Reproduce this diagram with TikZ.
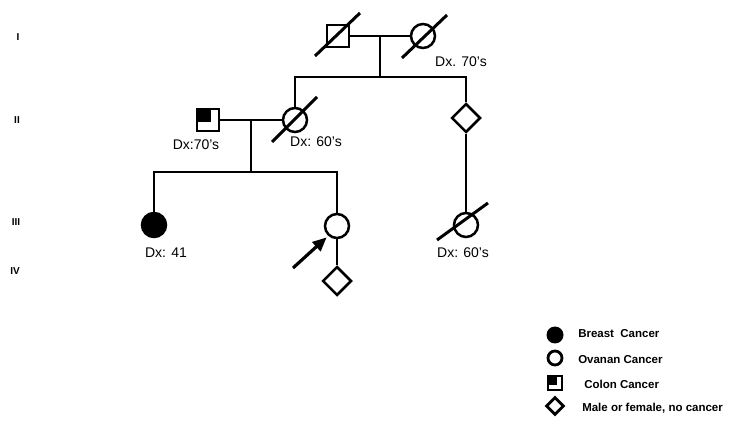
\documentclass[tikz,border=0pt]{standalone}
\usepackage{fontspec}
\setmainfont{Liberation Sans}
\usetikzlibrary{shapes.geometric,arrows.meta,calc}
\begin{document}
\begin{tikzpicture}[x=1pt,y=-1pt,line width=2.5pt,
  male/.style={draw,rectangle,minimum size=22pt,inner sep=0pt},
  female/.style={draw,circle,minimum size=24pt,inner sep=0pt},
  anysex/.style={draw,diamond,minimum size=29pt,inner sep=0pt},
  affected/.style={fill=black},
  deceased/.style={line width=3pt},
  dxlabel/.style={font=\fontsize{14}{16}\selectfont,inner sep=0pt},
  genlabel/.style={font=\fontsize{10}{12}\selectfont\bfseries,inner sep=0pt},
  legtext/.style={font=\fontsize{11.5}{13}\selectfont\bfseries,anchor=west,inner sep=0pt},
  proband/.style={-{Triangle[length=14pt,width=12pt]},line width=3.2pt}]
\useasboundingbox (0,0) rectangle (732,422);

% generation numerals
\node[genlabel] (gI)   at (18,37)  {I};
\node[genlabel] (gII)  at (17,120) {II};
\node[genlabel] (gIII) at (16,222) {III};
\node[genlabel] (gIV)  at (15,271) {IV};

% generation I
\node[male]   (m1) at (338,36) {};
\node[female] (f1) at (423,36) {};
\draw[deceased] ($(m1)+(-23,20)$) -- ($(m1)+(22,-23)$);
\draw[deceased] ($(f1)+(-21,22)$) -- ($(f1)+(24,-21)$);
\node[dxlabel] (f1dx) at (461,62) {Dx. 70's};
\draw (m1.east) -- (f1.west) coordinate[pos=0.5] (u1);
\coordinate (s1) at (u1 |- 0,77);

% generation II
\node[male]   (m2) at (208,120) {};
\fill ($(m2.north west)+(1,1)$) rectangle ($(m2.center)+(2.5,2.5)$);
\node[female] (f2) at (295,120) {};
\draw[deceased] ($(f2)+(-23,22)$) -- ($(f2)+(22,-23)$);
\node[anysex] (d2) at (466,118) {};
\node[dxlabel] (m2dx) at (196,145) {Dx:70's};
\node[dxlabel] (f2dx) at (316,142) {Dx: 60's};
\draw (u1) -- (s1);
\draw (f2.north) |- (s1) -| (d2.north);
\draw (m2.east) -- (f2.west) coordinate[pos=0.5] (u2);
\coordinate (s2) at (u2 |- 0,172);

% generation III
\node[female,affected] (f3a) at (154,225) {};
\node[female] (p) at (337,226) {};
\node[female] (f3c) at (466,225) {};
\draw[deceased] ($(f3c)+(-29,15)$) -- ($(f3c)+(22,-22)$);
\node[dxlabel] (f3adx) at (166,253) {Dx: 41};
\node[dxlabel] (f3cdx) at (463,253) {Dx: 60's};
\draw (u2) -- (s2);
\draw (f3a.north) |- (s2) -| (p.north);
\draw (d2.south) -- (f3c.north);
\coordinate (ptail) at (293,268);
\draw[proband] (ptail) -- ($(p.225)+(-1,2)$);

% generation IV
\node[anysex] (d4) at (337,281) {};
\draw (p.south) -- (d4.north);

% key
\node[circle,fill=black,minimum size=17pt,inner sep=0pt] (kb) at (555,335) {};
\node[draw,circle,minimum size=14pt,inner sep=0pt,line width=2.8pt] (ko) at (555,358) {};
\node[draw,rectangle,minimum size=14pt,inner sep=0pt,line width=2.8pt] (kc) at (555,383) {};
\fill ($(kc.north west)+(1,1)$) rectangle ($(kc.center)+(2,2)$);
\node[draw,diamond,minimum size=18pt,inner sep=0pt,line width=2.8pt] (kd) at (555,406) {};
\node[legtext] (kbt) at (577,334) {Breast\ \ Cancer};
\node[legtext] (kot) at (577,360) {Ovanan Cancer};
\node[legtext] (kct) at (583,384) {Colon Cancer};
\node[legtext] (kdt) at (581,408) {Male or female, no cancer};
\end{tikzpicture}
\end{document}
